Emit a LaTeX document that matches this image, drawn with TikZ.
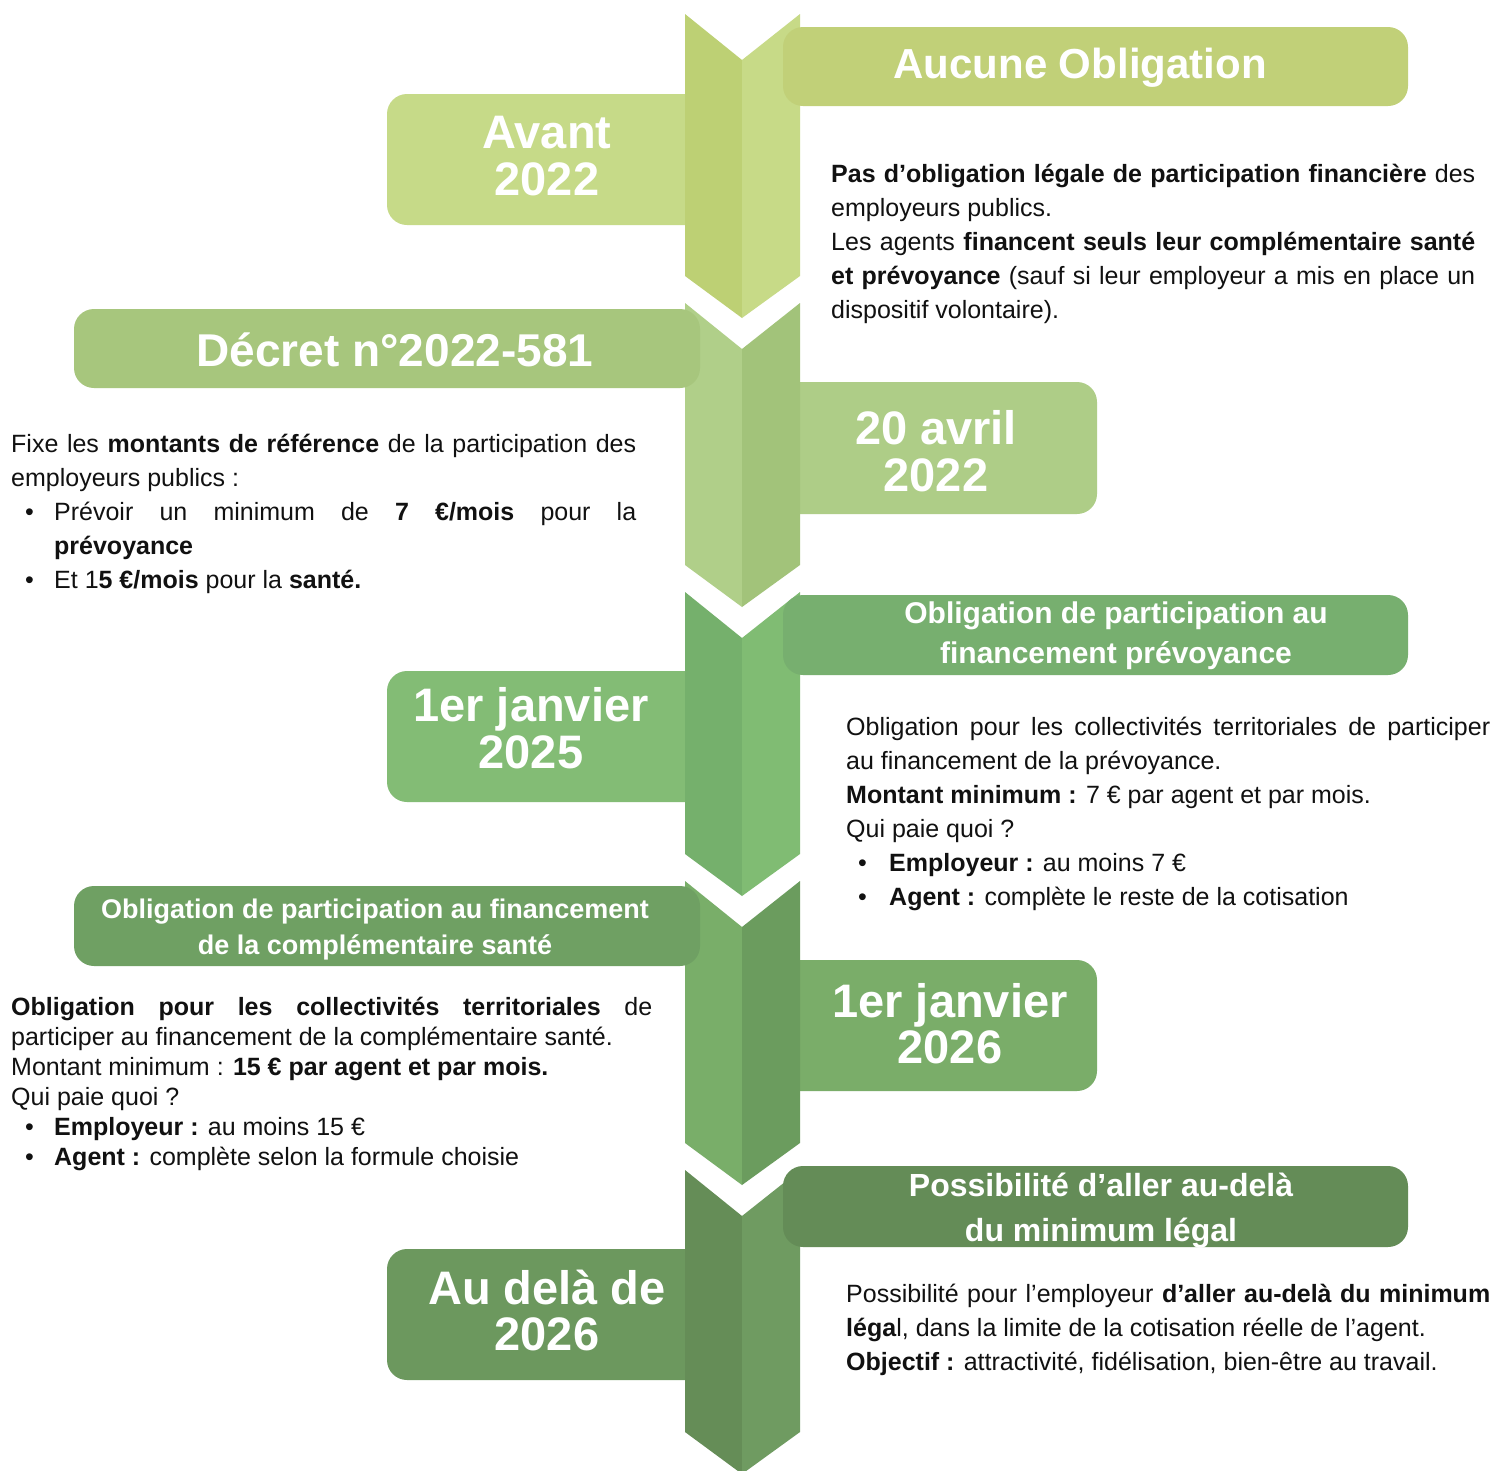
\documentclass[tikz,border=0pt]{standalone}
\usepackage{fontspec}
\setmainfont{Liberation Sans}
\newfontfamily\hfont{Liberation Sans}
\definecolor{sAL}{HTML}{BDD074}
\definecolor{sAR}{HTML}{C7DA87}
\definecolor{sBL}{HTML}{B0CF89}
\definecolor{sBR}{HTML}{A2C37A}
\definecolor{sCL}{HTML}{75B06C}
\definecolor{sCR}{HTML}{80BC73}
\definecolor{sDL}{HTML}{79AE69}
\definecolor{sDR}{HTML}{6B9C5E}
\definecolor{sEL}{HTML}{658D57}
\definecolor{sER}{HTML}{6F9B61}
\definecolor{bAvant}{HTML}{C6DA88}
\definecolor{bAucune}{HTML}{C1D078}
\definecolor{bDecret}{HTML}{A7C67D}
\definecolor{bAvril}{HTML}{AECD87}
\definecolor{bJanA}{HTML}{83BC75}
\definecolor{bPrev}{HTML}{77AF6F}
\definecolor{bSante}{HTML}{6FA063}
\definecolor{bJanB}{HTML}{7AAD69}
\definecolor{bAudela}{HTML}{6C985E}
\definecolor{bPossib}{HTML}{648C57}
\definecolor{txt}{HTML}{111111}
\newcommand\chevseg[3]{%
  \fill[#2] (685,#1) -- (742,#1+46) -- (742,#1+304) -- (685,#1+262) -- cycle;
  \fill[#3] (742,#1+46) -- (800,#1) -- (800,#1+262) -- (742,#1+304) -- cycle;}
\newcommand\myitem[1]{\par\noindent\hangindent=43pt\hangafter=1\makebox[43pt][l]{\hspace{#1}\textbullet}}
\tikzset{
  body/.style={anchor=base west, inner sep=0pt, align=justify, text=txt,
    font=\fontsize{25}{34}\selectfont},
  datelbl/.style={anchor=base, inner sep=0pt, text=white, font=\hfont\bfseries\fontsize{47}{50}\selectfont},
  headlbl/.style={anchor=base, inner sep=0pt, text=white},
  roundbox/.style={rounded corners=20pt}
}
\begin{document}
\hyphenpenalty=10000\relax
\exhyphenpenalty=10000\relax
\begin{tikzpicture}[x=1pt,y=-1pt]
\fill[white] (0,0) rectangle (1496,1470);
\useasboundingbox (0,0) rectangle (1496,1470);
% date boxes (behind the chevrons)
\fill[bAvant, roundbox] (387,94) rectangle (742,225);
\fill[bAvril, roundbox] (742,382) rectangle (1097,514);
\fill[bJanA, roundbox] (387,671) rectangle (742,802);
\fill[bJanB, roundbox] (742,960) rectangle (1097,1091);
\fill[bAudela, roundbox] (387,1249) rectangle (742,1380);
% chevrons
\chevseg{14}{sAL}{sAR}
\chevseg{303}{sBL}{sBR}
\chevseg{592}{sCL}{sCR}
\chevseg{881}{sDL}{sDR}
\chevseg{1170}{sEL}{sER}
% header boxes (on top)
\fill[bAucune, roundbox] (783,27) rectangle (1408,106);
\fill[bDecret, roundbox] (74,309) rectangle (700,388);
\fill[bPrev, roundbox] (783,595) rectangle (1408,675);
\fill[bSante, roundbox] (74,886) rectangle (700,966);
\fill[bPossib, roundbox] (783,1166) rectangle (1408,1247);
% date labels
\node[datelbl] (avant1) at (547,148) {Avant};
\node[datelbl] (avant2) at (547,195) {2022};
\node[datelbl] (avril1) at (936,444) {20 avril};
\node[datelbl] (avril2) at (936,491) {2022};
\node[datelbl] (janA1) at (531,721) {1er janvier};
\node[datelbl] (janA2) at (531,768) {2025};
\node[datelbl] (janB1) at (950,1017) {1er janvier};
\node[datelbl] (janB2) at (950,1063) {2026};
\node[datelbl] (aud1) at (547,1304) {Au delà de};
\node[datelbl] (aud2) at (547,1350) {2026};
% header labels
\node[headlbl, font=\hfont\bfseries\fontsize{42}{44}\selectfont] (aucune) at (1080,78) {Aucune Obligation};
\node[headlbl, font=\hfont\bfseries\fontsize{46}{48}\selectfont] (decret) at (395,366) {Décret n°2022-581};
\node[headlbl, font=\hfont\bfseries\fontsize{30}{32}\selectfont] (prev1) at (1116,623) {Obligation de participation au};
\node[headlbl, font=\hfont\bfseries\fontsize{30}{32}\selectfont] (prev2) at (1116,663) {financement prévoyance};
\node[headlbl, font=\hfont\bfseries\fontsize{27}{30}\selectfont] (sante1) at (375,918) {Obligation de participation au financement};
\node[headlbl, font=\hfont\bfseries\fontsize{27}{30}\selectfont] (sante2) at (375,954) {de la complémentaire santé};
\node[headlbl, font=\hfont\bfseries\fontsize{32}{34}\selectfont] (poss1) at (1101,1196) {Possibilité d’aller au-delà};
\node[headlbl, font=\hfont\bfseries\fontsize{32}{34}\selectfont] (poss2) at (1101,1241) {du minimum légal};
% body texts
\node[body, text width=644pt] (t1) at (831,182) {%
\textbf{Pas d’obligation légale de participation financière} des\linebreak employeurs publics.\par
Les agents \textbf{financent seuls leur complémentaire santé\linebreak et prévoyance} (sauf si leur employeur a mis en place un\linebreak dispositif volontaire).};
\node[body, text width=625pt] (t2) at (11,452) {%
Fixe les \textbf{montants de référence} de la participation des\linebreak employeurs publics~:
\myitem{14pt}Prévoir un minimum de \textbf{7 €/mois} pour la\linebreak \textbf{prévoyance}
\myitem{14pt}Et 1\textbf{5 €/mois} pour la \textbf{santé.}};
\node[body, text width=644pt] (t3) at (846,735) {%
Obligation pour les collectivités territoriales de participer\linebreak au financement de la prévoyance.\par
\textbf{Montant minimum :} 7 € par agent et par mois.\par
Qui paie quoi~?
\myitem{12pt}\textbf{Employeur :} au moins 7 €
\myitem{12pt}\textbf{Agent :} complète le reste de la cotisation};
\node[body, text width=641pt, font=\fontsize{25}{30}\selectfont] (t4) at (11,1015) {%
\textbf{Obligation pour les collectivités territoriales} de\linebreak participer au financement de la complémentaire santé.\par
Montant minimum : \textbf{15 € par agent et par mois.}\par
Qui paie quoi~?
\myitem{14pt}\textbf{Employeur :} au moins 15 €
\myitem{14pt}\textbf{Agent :} complète selon la formule choisie};
\node[body, text width=644pt] (t5) at (846,1302) {%
Possibilité pour l’employeur \textbf{d’aller au-delà du minimum\linebreak léga}l, dans la limite de la cotisation réelle de l’agent.\par
\textbf{Objectif :} attractivité, fidélisation, bien-être au travail.};
\end{tikzpicture}
\end{document}
